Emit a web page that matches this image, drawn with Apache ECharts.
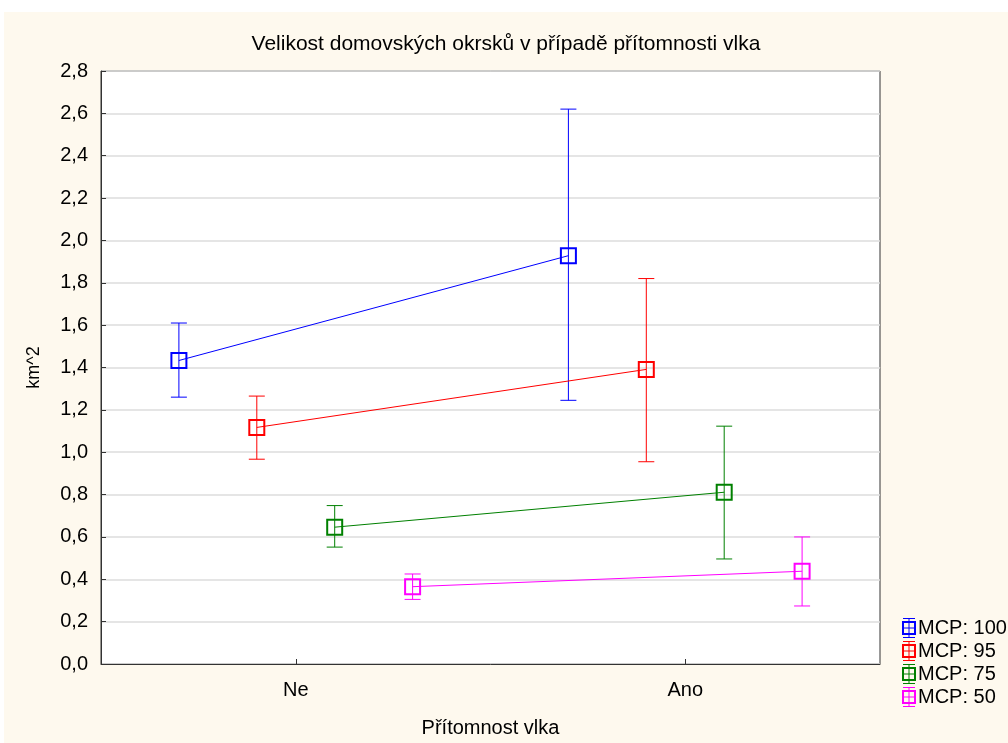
<!DOCTYPE html>
<html>
<head>
<meta charset="utf-8">
<script src="https://cdn.jsdelivr.net/npm/echarts@6/dist/echarts.min.js"></script>
<style>
html,body{margin:0;padding:0;background:#ffffff;width:1008px;height:743px;overflow:hidden;}
#chart{position:absolute;left:4px;top:12px;width:1004px;height:731px;}
</style>
</head>
<body>
<div id="chart"></div>
<script>
// ---- data ----
const categories = ['Ne', 'Ano'];
const seriesNames = ['MCP: 100', 'MCP: 95', 'MCP: 75', 'MCP: 50'];
const means100 = [1.433, 1.928];
const upper100 = [1.610, 2.620];
const lower100 = [1.260, 1.245];
const means95 = [1.117, 1.391];
const upper95 = [1.265, 1.820];
const lower95 = [0.967, 0.955];
const means75 = [0.646, 0.811];
const upper75 = [0.748, 1.123];
const lower75 = [0.552, 0.496];
const means50 = [0.365, 0.438];
const upper50 = [0.425, 0.600];
const lower50 = [0.305, 0.274];
const yTicks = [0, 0.2, 0.4, 0.6, 0.8, 1.0, 1.2, 1.4, 1.6, 1.8, 2.0, 2.2, 2.4, 2.6, 2.8];

// ---- presentation ----
const colors = ['#0000ff', '#ff0000', '#008000', '#ff00ff'];
const dodge = [-0.3, -0.1, 0.1, 0.3];
const groups = [
  [means100, upper100, lower100],
  [means95, upper95, lower95],
  [means75, upper75, lower75],
  [means50, upper50, lower50]
];
const legendIcon = 'path://M2 0H14V1H2Z M7.5 0H8.5V20H7.5Z M1 3H15V5H1Z M1 15H15V17H1Z M1 3H3V17H1Z M13 3H15V17H13Z M1 9.5H15V10.5H1Z M2 19H14V20H2Z';

const series = [];
groups.forEach((g, i) => {
  const [m, up, lo] = g;
  const errData = categories.map((c, k) => [k + dodge[i], lo[k], up[k]]);
  series.push({
    name: seriesNames[i],
    type: 'custom',
    xAxisIndex: 1,
    yAxisIndex: 0,
    z: 2,
    data: errData,
    encode: { x: 0, y: [1, 2] },
    renderItem: function (params, api) {
      const x = api.value(0);
      const pLo = api.coord([x, api.value(1)]);
      const pHi = api.coord([x, api.value(2)]);
      const hw = 8;
      const st = { stroke: colors[i], lineWidth: 1 };
      return {
        type: 'group',
        children: [
          { type: 'line', shape: { x1: pLo[0], y1: pLo[1], x2: pHi[0], y2: pHi[1] }, style: st },
          { type: 'line', shape: { x1: pHi[0] - hw, y1: pHi[1], x2: pHi[0] + hw, y2: pHi[1] }, style: st },
          { type: 'line', shape: { x1: pLo[0] - hw, y1: pLo[1], x2: pLo[0] + hw, y2: pLo[1] }, style: st }
        ]
      };
    },
    silent: true
  });
  series.push({
    name: seriesNames[i],
    type: 'line',
    xAxisIndex: 1,
    yAxisIndex: 0,
    z: 3,
    data: categories.map((c, k) => [k + dodge[i], m[k]]),
    symbol: 'rect',
    symbolSize: 15,
    showSymbol: true,
    lineStyle: { color: colors[i], width: 1 },
    itemStyle: { color: 'transparent', borderColor: colors[i], borderWidth: 2 },
    emphasis: { disabled: true },
    animation: false
  });
});

const chart = echarts.init(document.getElementById('chart'));
chart.setOption({
  backgroundColor: '#fef9ee',
  animation: false,
  textStyle: { fontFamily: 'Liberation Sans, Arial, sans-serif' },
  title: {
    text: 'Velikost domovských okrsků v případě přítomnosti vlka',
    left: 'center',
    top: 17,
    textStyle: { fontSize: 21, fontWeight: 'normal', color: '#000', fontFamily: 'Liberation Sans, Arial, sans-serif' }
  },
  legend: {
    orient: 'vertical',
    left: 893,
    top: 601,
    itemWidth: 16,
    itemHeight: 20,
    itemGap: 3,
    selectedMode: false,
    textStyle: { fontSize: 20, color: '#000', padding: [0, 0, 0, -4] },
    data: seriesNames.map((n, i) => ({
      name: n,
      icon: legendIcon,
      itemStyle: { color: colors[i], borderWidth: 0 }
    }))
  },
  grid: {
    left: 97,
    right: 128,
    top: 59,
    bottom: 78,
    show: true,
    backgroundColor: '#ffffff',
    borderColor: '#333333',
    borderWidth: 1
  },
  xAxis: [
    {
      type: 'category',
      data: categories,
      boundaryGap: true,
      name: 'Přítomnost vlka',
      nameLocation: 'middle',
      nameGap: 54,
      nameTextStyle: { fontSize: 20, color: '#000' },
      axisLine: { show: true, onZero: false, lineStyle: { color: '#333', width: 1 } },
      axisTick: { show: true, inside: true, alignWithLabel: true, length: 5, lineStyle: { color: '#333' } },
      axisLabel: { fontSize: 20, color: '#000', margin: 16 },
      splitLine: { show: false }
    },
    {
      type: 'value',
      min: -0.5,
      max: 1.5,
      show: false,
      axisLine: { onZero: false },
      splitLine: { show: false }
    }
  ],
  yAxis: {
    type: 'value',
    min: 0,
    max: 2.8,
    interval: 0.2,
    name: 'km^2',
    nameLocation: 'middle',
    nameGap: 58,
    nameRotate: 90,
    nameTextStyle: { fontSize: 18, color: '#000' },
    axisLine: { show: true, onZero: false, lineStyle: { color: '#333', width: 1 } },
    axisTick: { show: true, inside: true, length: 5, lineStyle: { color: '#333' } },
    axisLabel: {
      fontSize: 20,
      color: '#000',
      margin: 13,
      formatter: function (v) {
        const t = yTicks.find(a => Math.abs(a - v) < 1e-9);
        return (t !== undefined ? t : v).toFixed(1).replace('.', ',');
      }
    },
    splitLine: { show: true, lineStyle: { color: '#dcdcdc', width: 1.5 } }
  },
  series: series
});
</script>
</body>
</html>
